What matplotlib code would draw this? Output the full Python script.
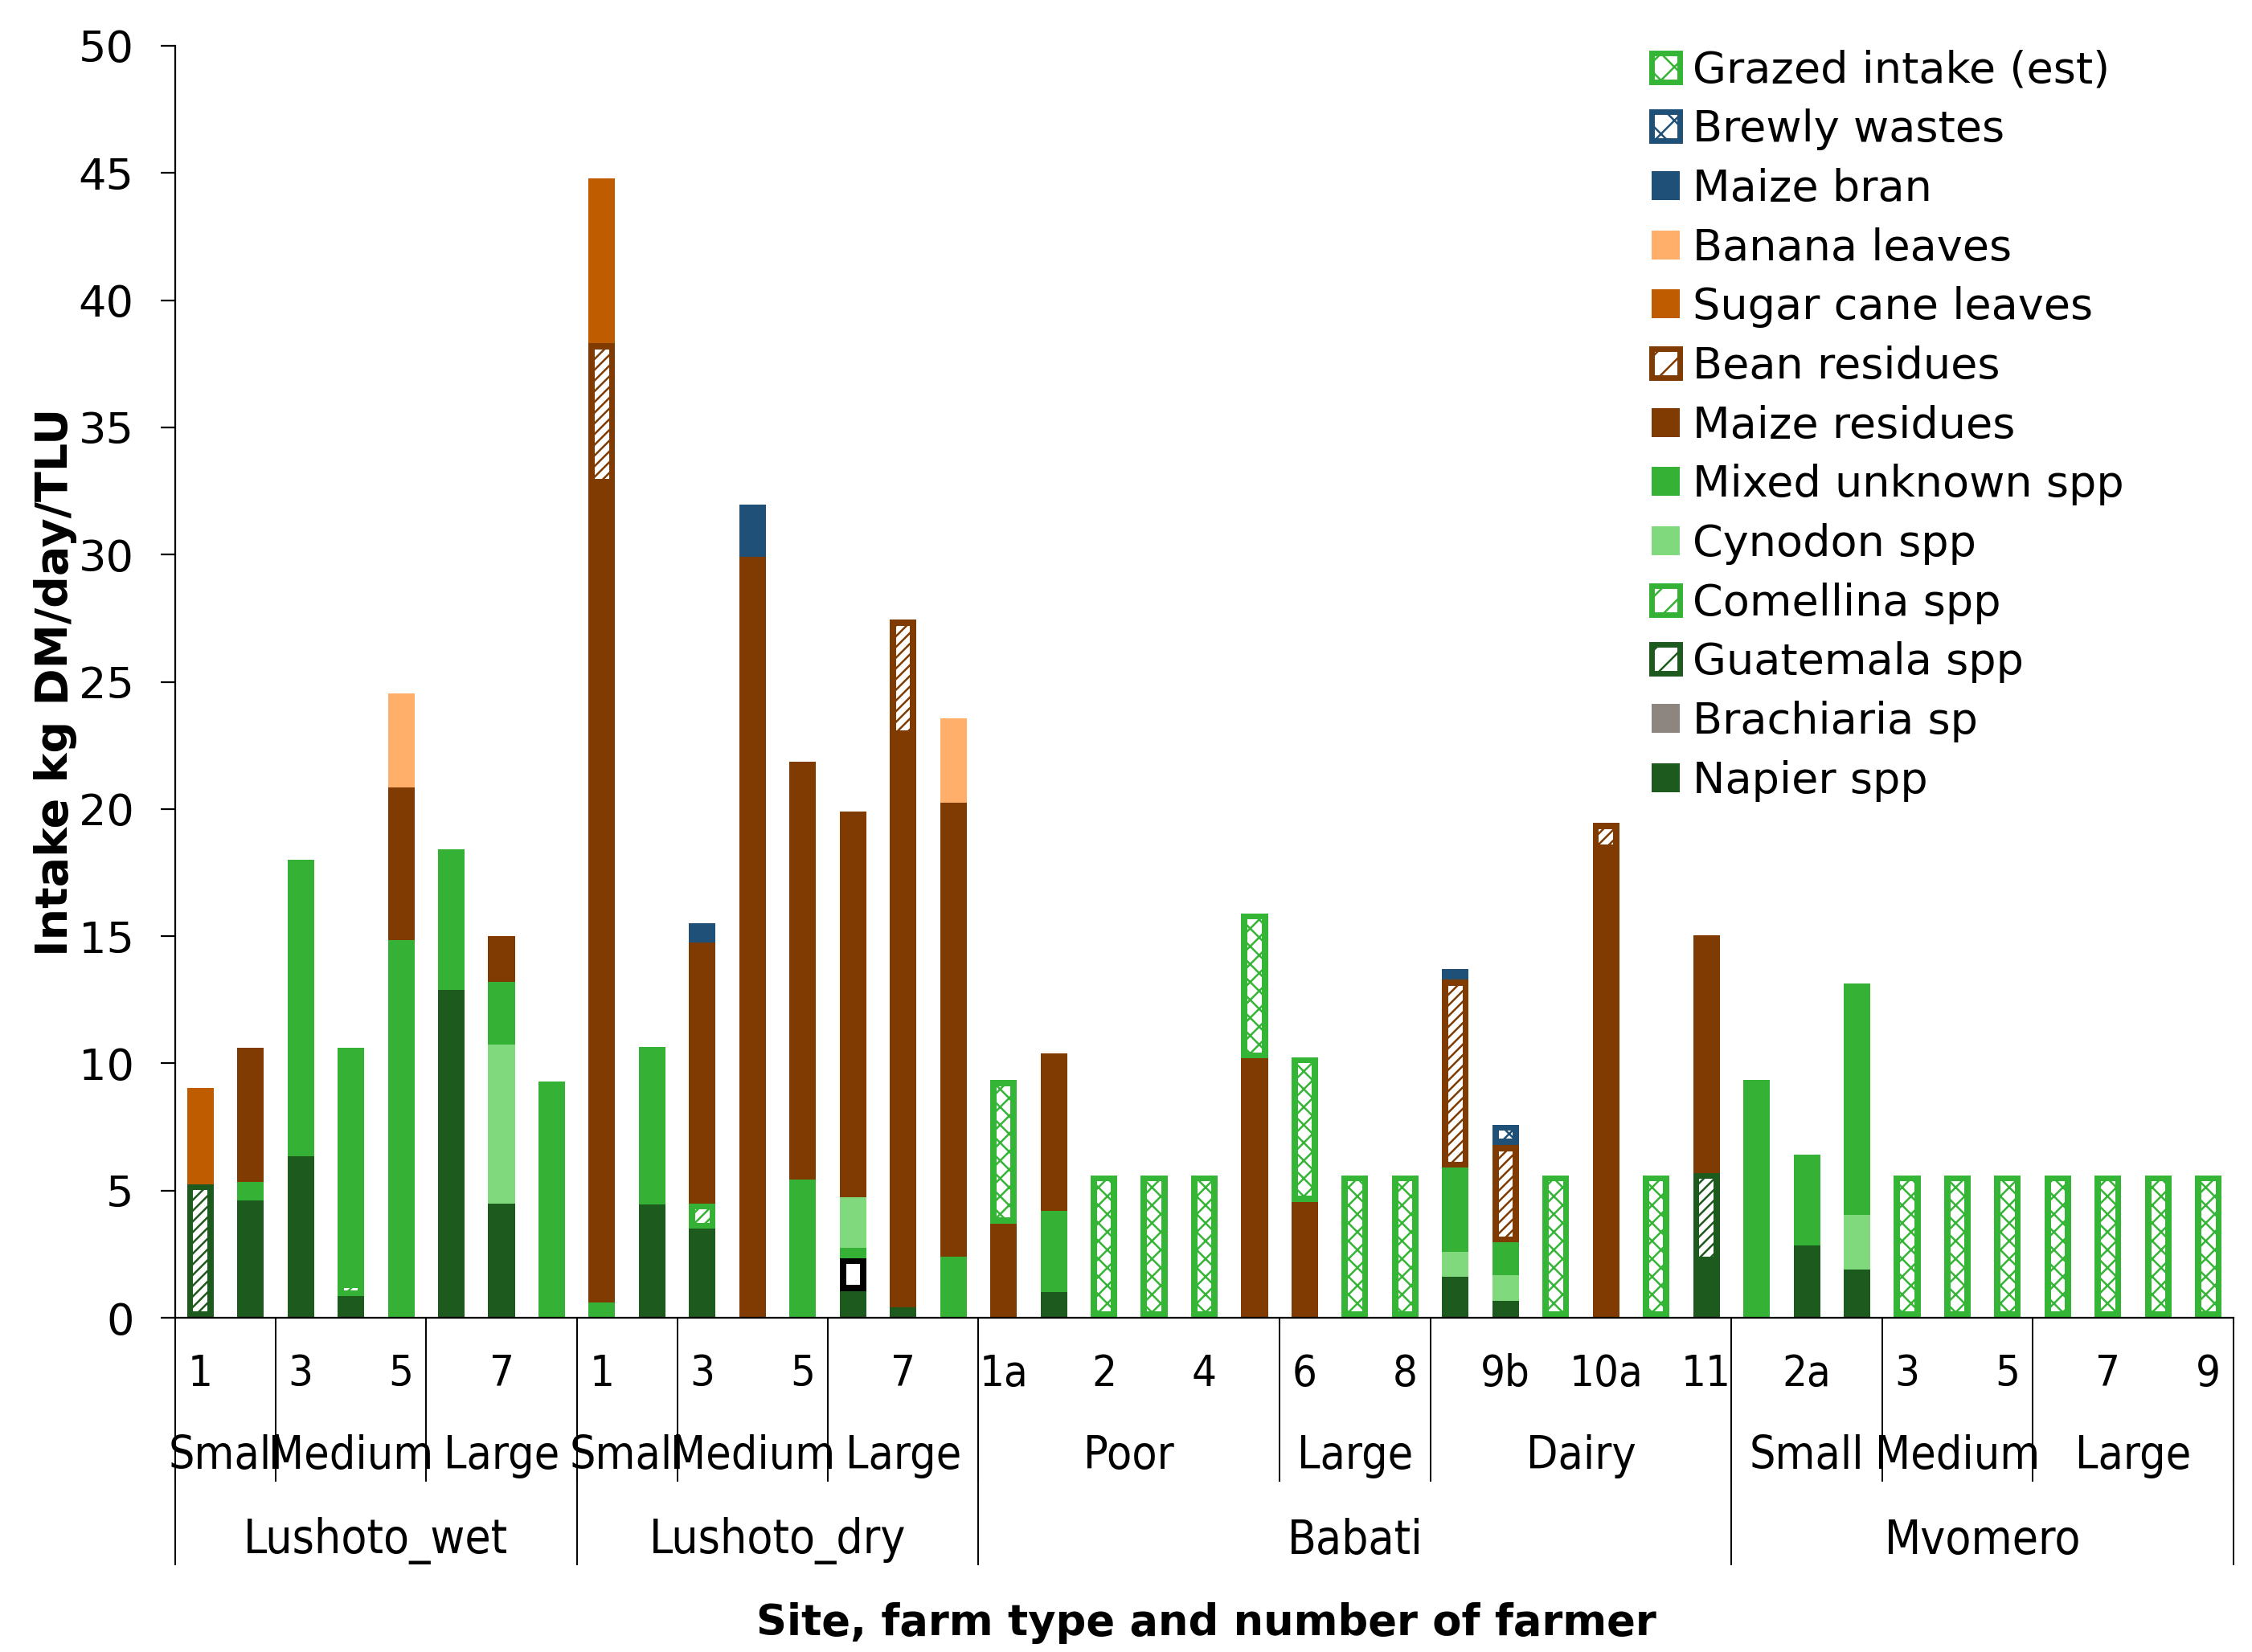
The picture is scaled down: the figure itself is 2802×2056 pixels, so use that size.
import matplotlib
matplotlib.use("Agg")
import matplotlib.pyplot as plt
import matplotlib.transforms as mtransforms
from matplotlib.patches import Patch
import numpy as np

plt.rcParams['font.family'] = ['DejaVu Sans']
plt.rcParams['hatch.linewidth'] = 0.9

# Achsen-Kategorien (drei Ebenen)
sites = ["Lushoto_wet", "Lushoto_dry", "Babati", "Mvomero"]
site_sizes = [8, 8, 15, 10]
farm_types = ["Small", "Medium", "Large", "Small", "Medium", "Large",
              "Poor", "Large", "Dairy", "Small", "Medium", "Large"]
farm_sizes = [2, 3, 3, 2, 3, 3, 6, 3, 6, 3, 3, 4]
farmers = ["1", "2", "3", "4", "5", "6", "7", "8",
           "1", "2", "3", "4", "5", "6", "7", "8",
           "1a", "1b", "2", "3", "4", "5", "6", "7", "8", "9a", "9b", "9c", "10a", "10b", "11",
           "1", "2a", "2b", "3", "4", "5", "6", "7", "8", "9"]

# Werte (kg DM/day/TLU), je Futtermittel, von unten nach oben gestapelt
napier = [0, 4.6, 6.35, 0.85, 0, 12.9, 4.5, 0,
          0, 4.45, 3.5, 0, 0, 1.05, 0.4, 0,
          0, 1.0, 0, 0, 0, 0, 0, 0, 0, 1.6, 0.68, 0, 0, 0, 2.15,
          0, 2.85, 1.9, 0, 0, 0, 0, 0, 0, 0]
brachiaria = [0, 0, 0, 0, 0, 0, 0, 0,
              0, 0, 0, 0, 0, 1.3, 0, 0,
              0, 0, 0, 0, 0, 0, 0, 0, 0, 0, 0, 0, 0, 0, 0,
              0, 0, 0, 0, 0, 0, 0, 0, 0, 0]
guatemala = [5.25, 0, 0, 0, 0, 0, 0, 0,
             0, 0, 0, 0, 0, 0, 0, 0,
             0, 0, 0, 0, 0, 0, 0, 0, 0, 0, 0, 0, 0, 0, 3.55,
             0, 0, 0, 0, 0, 0, 0, 0, 0, 0]
comellina = [0, 0, 0, 0.55, 0, 0, 0, 0,
             0, 0, 1.0, 0, 0, 0.4, 0, 0,
             0, 0, 0, 0, 0, 0, 0, 0, 0, 0, 0, 0, 0, 0, 0,
             0, 0, 0, 0, 0, 0, 0, 0, 0, 0]
cynodon = [0, 0, 0, 0, 0, 0, 6.25, 0,
           0, 0, 0, 0, 0, 2.0, 0, 0,
           0, 0, 0, 0, 0, 0, 0, 0, 0, 1.0, 1.0, 0, 0, 0, 0,
           0, 0, 2.15, 0, 0, 0, 0, 0, 0, 0]
mixed = [0, 0.75, 11.65, 9.2, 14.85, 5.5, 2.45, 9.3,
         0.6, 6.2, 0, 0, 5.45, 0, 0, 2.4,
         0, 3.2, 0, 0, 0, 0, 0, 0, 0, 3.3, 1.28, 0, 0, 0, 0,
         9.35, 3.55, 9.1, 0, 0, 0, 0, 0, 0, 0]
maize_res = [0, 5.25, 0, 0, 6.0, 0, 1.8, 0,
             32.15, 0, 10.25, 29.9, 16.4, 15.15, 22.45, 17.85,
             3.7, 6.2, 0, 0, 0, 10.2, 4.55, 0, 0, 0, 0, 0, 18.35, 0, 9.35,
             0, 0, 0, 0, 0, 0, 0, 0, 0, 0]
bean_res = [0, 0, 0, 0, 0, 0, 0, 0,
            5.55, 0, 0, 0, 0, 0, 4.6, 0,
            0, 0, 0, 0, 0, 0, 0, 0, 0, 7.4, 3.83, 0, 1.1, 0, 0,
            0, 0, 0, 0, 0, 0, 0, 0, 0, 0]
sugar_cane = [3.8, 0, 0, 0, 0, 0, 0, 0,
              6.5, 0, 0, 0, 0, 0, 0, 0,
              0, 0, 0, 0, 0, 0, 0, 0, 0, 0, 0, 0, 0, 0, 0,
              0, 0, 0, 0, 0, 0, 0, 0, 0, 0]
banana = [0, 0, 0, 0, 3.7, 0, 0, 0,
          0, 0, 0, 0, 0, 0, 0, 3.3,
          0, 0, 0, 0, 0, 0, 0, 0, 0, 0, 0, 0, 0, 0, 0,
          0, 0, 0, 0, 0, 0, 0, 0, 0, 0]
maize_bran = [0, 0, 0, 0, 0, 0, 0, 0,
              0, 0, 0.75, 2.05, 0, 0, 0, 0,
              0, 0, 0, 0, 0, 0, 0, 0, 0, 0.4, 0, 0, 0, 0, 0,
              0, 0, 0, 0, 0, 0, 0, 0, 0, 0]
brewly = [0, 0, 0, 0, 0, 0, 0, 0,
          0, 0, 0, 0, 0, 0, 0, 0,
          0, 0, 0, 0, 0, 0, 0, 0, 0, 0, 0.8, 0, 0, 0, 0,
          0, 0, 0, 0, 0, 0, 0, 0, 0, 0]
grazed = [0, 0, 0, 0, 0, 0, 0, 0,
          0, 0, 0, 0, 0, 0, 0, 0,
          5.65, 0, 5.6, 5.6, 5.6, 5.7, 5.7, 5.6, 5.6, 0, 0, 5.6, 0, 5.6, 0,
          0, 0, 0, 5.6, 5.6, 5.6, 5.6, 5.6, 5.6, 5.6]

# (Name, Werte, Farbe, Schraffur)
series = [
    ("Napier spp", napier, "#1D5A1D", None),
    ("Brachiaria sp", brachiaria, "black", ""),
    ("Guatemala spp", guatemala, "#1D5A1D", "/////"),
    ("Comellina spp", comellina, "#35B235", "/////"),
    ("Cynodon spp", cynodon, "#80D97C", None),
    ("Mixed unknown spp", mixed, "#35B235", None),
    ("Maize residues", maize_res, "#7F3B02", None),
    ("Bean residues", bean_res, "#7F3B02", "/////"),
    ("Sugar cane leaves", sugar_cane, "#C05C00", None),
    ("Banana leaves", banana, "#FFAF69", None),
    ("Maize bran", maize_bran, "#1F5078", None),
    ("Brewly wastes", brewly, "#1F5078", "xxx"),
    ("Grazed intake (est)", grazed, "#35B535", "xxx"),
]

fig = plt.figure(figsize=(14.01, 10.28), dpi=200)
ax = fig.add_axes([0.0778, 0.2023, 0.914, 0.77])

x = np.arange(len(farmers))
bar_w = 0.53
inner_w = 0.28
inset = 0.24
bottom = np.zeros(len(x))
handles = []
for name, vals, color, hatch in series:
    vals = np.array(vals, dtype=float)
    ax.bar(x, vals, bar_w, bottom=bottom, color=color, linewidth=0)
    if hatch is not None:
        # weisser Innenteil mit Muster (wie Excel-Musterfuellung)
        m = vals > 0
        h = np.clip(vals - 2 * inset, 0, None)
        ax.bar(x[m], h[m], inner_w, bottom=bottom[m] + inset, facecolor="white",
               edgecolor=color, hatch=hatch, linewidth=0)
    bottom += vals
    if name == "Brachiaria sp":
        handles.append(Patch(facecolor="#8C8580", edgecolor="none"))
    elif hatch:
        handles.append(Patch(facecolor="white", edgecolor=color, hatch=hatch[:2], linewidth=2.5))
    else:
        handles.append(Patch(facecolor=color, edgecolor="none"))

ax.set_xlim(-0.5, len(farmers) - 0.5)
ax.set_ylim(0, 50)
ax.set_yticks(range(0, 51, 5))
ax.tick_params(axis="y", direction="out", length=6.5, width=0.8, labelsize=19.5, pad=12)
ax.set_xticks([])
for s in ["top", "right"]:
    ax.spines[s].set_visible(False)
ax.spines["left"].set_linewidth(0.8)
ax.spines["bottom"].set_linewidth(0.8)

# mehrstufige x-Achse
trans = mtransforms.blended_transform_factory(ax.transData, ax.transAxes)
farm_edges = np.cumsum([0] + farm_sizes) - 0.5
site_edges = np.cumsum([0] + site_sizes) - 0.5
for e in farm_edges:
    ax.plot([e, e], [0, -0.128], transform=trans, color="black", lw=0.7, clip_on=False)
for e in site_edges:
    ax.plot([e, e], [0, -0.194], transform=trans, color="black", lw=0.7, clip_on=False)

for i, lab in enumerate(farmers):
    if i % 2 == 0:
        ax.text(i, -0.044, lab, transform=trans, ha="center", va="center",
                fontsize=19.5, fontstretch="condensed")
for k, lab in enumerate(farm_types):
    ax.text((farm_edges[k] + farm_edges[k + 1]) / 2, -0.109, lab, transform=trans,
            ha="center", va="center", fontsize=20.5, fontstretch="condensed")
for k, lab in enumerate(sites):
    ax.text((site_edges[k] + site_edges[k + 1]) / 2, -0.175, lab, transform=trans,
            ha="center", va="center", fontsize=21, fontstretch="condensed")

ax.text(0.501, -0.240, "Site, farm type and number of farmer", transform=ax.transAxes,
        ha="center", va="center", fontsize=19, fontweight="bold")
ax.text(-0.058, 0.5, "Intake kg DM/day/TLU", transform=ax.transAxes, rotation=90,
        ha="center", va="center", fontsize=20, fontweight="bold")

names = [s[0] for s in series]
fig.legend(handles[::-1], names[::-1], loc="upper left", bbox_to_anchor=(0.7334, 0.970),
           frameon=False, fontsize=19.5, handlelength=0.65, handleheight=0.65,
           handletextpad=0.3, labelspacing=0.40, borderaxespad=0, borderpad=0)

fig.savefig("out.png", dpi=200)
